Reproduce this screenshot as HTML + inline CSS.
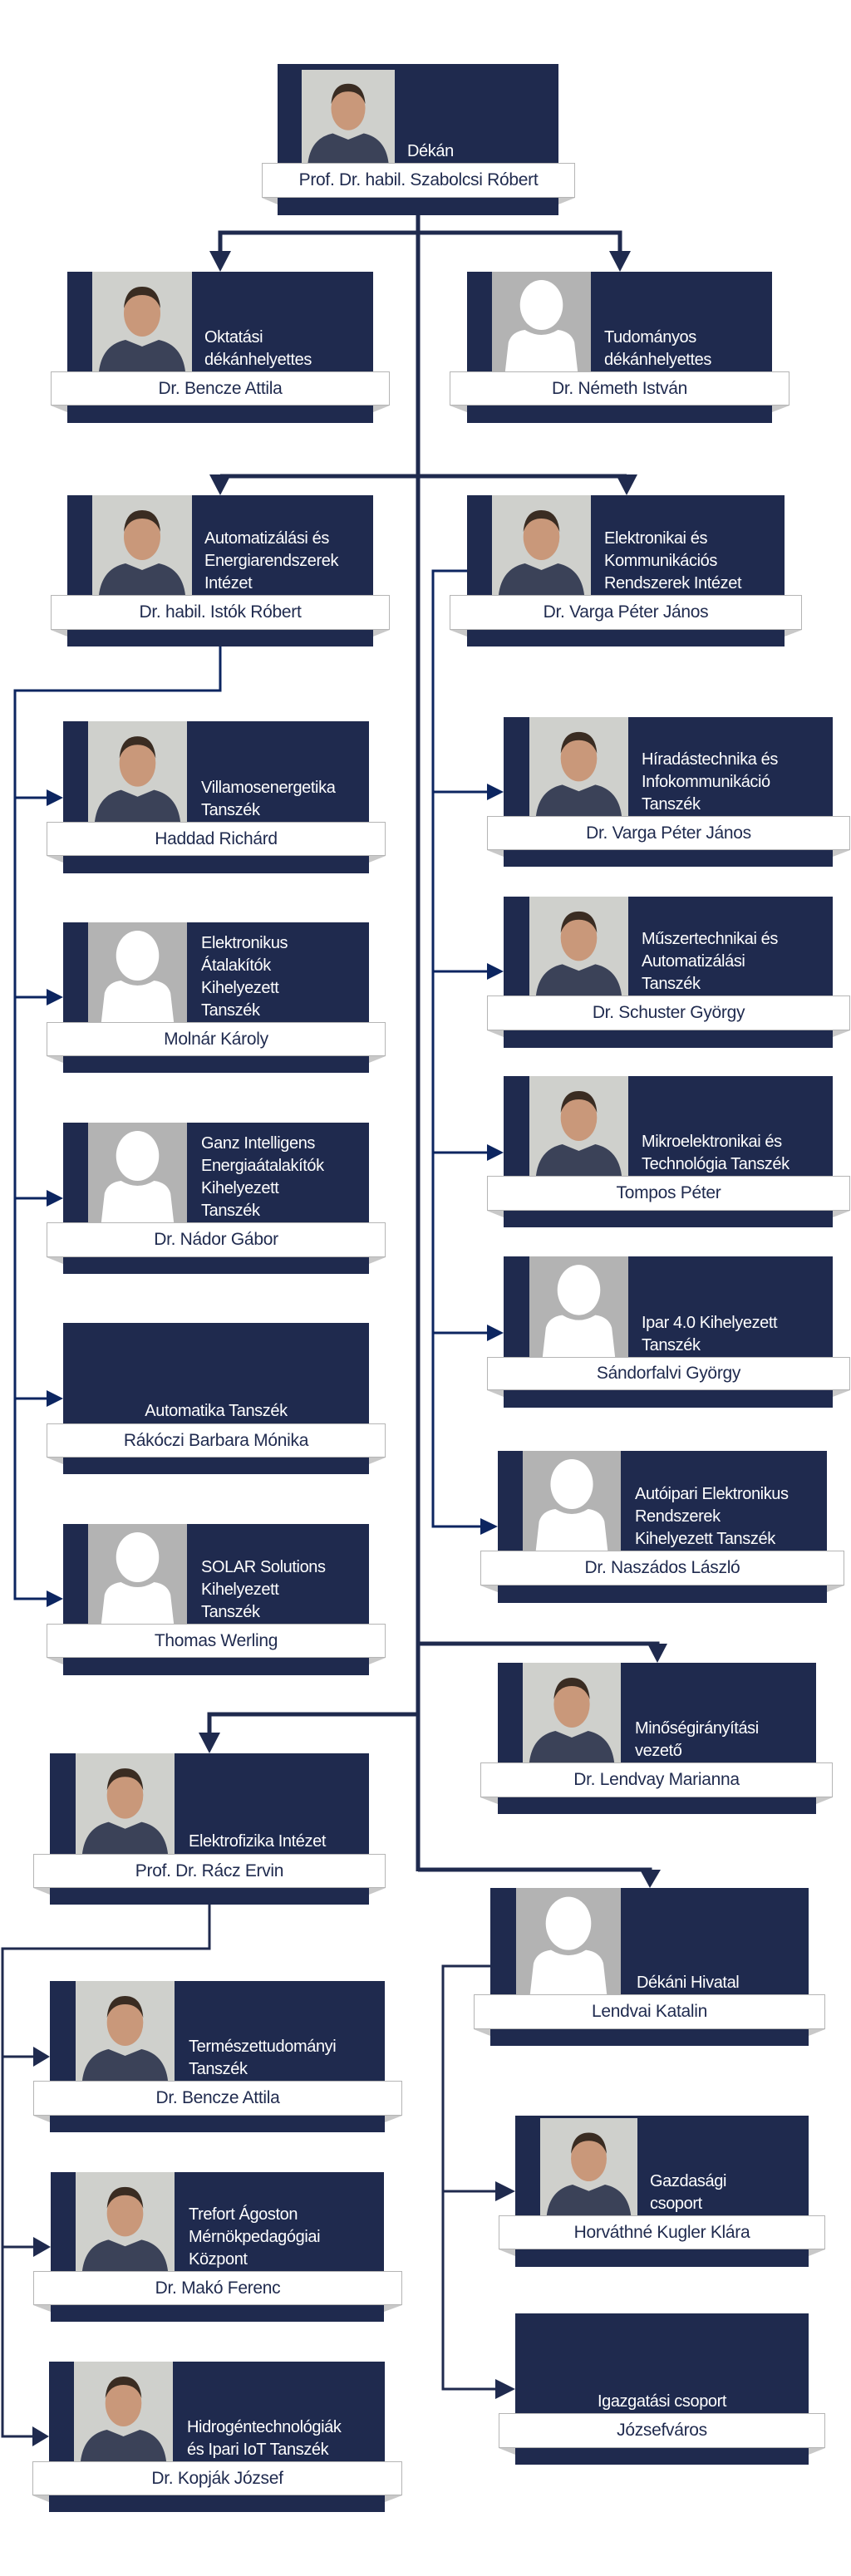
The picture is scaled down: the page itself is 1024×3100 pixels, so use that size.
<!DOCTYPE html>
<html><head><meta charset="utf-8"><style>
body{margin:0;background:#fff;width:1024px;height:3100px;position:relative;overflow:hidden;font-family:"Liberation Sans",sans-serif}
.r{position:absolute;background:#1f2a4e}
.p{position:absolute;overflow:hidden}
.p svg{display:block;width:100%;height:100%}
.t{position:absolute;color:#fff;font-size:20px;line-height:27px;white-space:nowrap;letter-spacing:-0.4px}
.b{position:absolute;background:#fff;border:1px solid #b5b5b5;box-sizing:border-box;color:#1f2a4e;font-size:21px;text-align:center;white-space:nowrap;display:flex;align-items:center;justify-content:center;letter-spacing:-0.3px}
svg.c{position:absolute;left:0;top:0}
</style></head><body>
<svg width="0" height="0" style="position:absolute"><defs>
<symbol id="av" viewBox="0 0 120 120" preserveAspectRatio="none"><rect width="120" height="120" fill="#b3b3b3"/><ellipse cx="60" cy="40" rx="26" ry="30" fill="#fff"/><path d="M16 120 L20 85 Q24 72 40 70 Q60 82 80 70 Q96 72 100 85 L104 120Z" fill="#fff"/></symbol>
<symbol id="ph" viewBox="0 0 120 120" preserveAspectRatio="none"><rect width="120" height="120" fill="#cfd0cc"/><path d="M8 120 Q12 88 40 82 L60 90 L80 82 Q108 88 112 120Z" fill="#3b4258"/><ellipse cx="60" cy="50" rx="22" ry="28" fill="#c9987a"/><path d="M38 44 Q40 18 60 18 Q80 18 82 44 Q76 28 60 28 Q44 28 38 44Z" fill="#3a2c22"/></symbol>
</defs></svg>

<div class="r" style="left:334px;top:77px;width:338px;height:182px"></div>
<div class="p" style="left:363px;top:84px;width:112px;height:112px"><svg><use href="#ph"/></svg></div>
<div class="t" style="left:490px;top:169px">Dékán</div>
<div class="b" style="left:315px;top:196px;width:377px;height:42px">Prof. Dr. habil. Szabolcsi Róbert</div>

<div class="r" style="left:81px;top:327px;width:368px;height:182px"></div>
<div class="p" style="left:111px;top:327px;width:120px;height:120px"><svg><use href="#ph"/></svg></div>
<div class="t" style="left:246px;top:393px">Oktatási<br>dékánhelyettes</div>
<div class="b" style="left:61px;top:447px;width:408px;height:41px">Dr. Bencze Attila</div>

<div class="r" style="left:562px;top:327px;width:367px;height:182px"></div>
<div class="p" style="left:592px;top:327px;width:119px;height:120px"><svg><use href="#av"/></svg></div>
<div class="t" style="left:727px;top:393px">Tudományos<br>dékánhelyettes</div>
<div class="b" style="left:541px;top:447px;width:409px;height:41px">Dr. Németh István</div>

<div class="r" style="left:81px;top:596px;width:368px;height:182px"></div>
<div class="p" style="left:111px;top:596px;width:120px;height:120px"><svg><use href="#ph"/></svg></div>
<div class="t" style="left:246px;top:635px">Automatizálási és<br>Energiarendszerek<br>Intézet</div>
<div class="b" style="left:61px;top:716px;width:408px;height:42px">Dr. habil. Istók Róbert</div>

<div class="r" style="left:562px;top:596px;width:382px;height:182px"></div>
<div class="p" style="left:592px;top:596px;width:119px;height:120px"><svg><use href="#ph"/></svg></div>
<div class="t" style="left:727px;top:635px">Elektronikai és<br>Kommunikációs<br>Rendszerek Intézet</div>
<div class="b" style="left:541px;top:716px;width:424px;height:42px">Dr. Varga Péter János</div>

<div class="r" style="left:76px;top:868px;width:368px;height:183px"></div>
<div class="p" style="left:106px;top:868px;width:119px;height:121px"><svg><use href="#ph"/></svg></div>
<div class="t" style="left:242px;top:935px">Villamosenergetika<br>Tanszék</div>
<div class="b" style="left:56px;top:989px;width:408px;height:41px">Haddad Richárd</div>

<div class="r" style="left:76px;top:1110px;width:368px;height:181px"></div>
<div class="p" style="left:106px;top:1110px;width:119px;height:120px"><svg><use href="#av"/></svg></div>
<div class="t" style="left:242px;top:1122px">Elektronikus<br>Átalakítók<br>Kihelyezett<br>Tanszék</div>
<div class="b" style="left:56px;top:1230px;width:408px;height:41px">Molnár Károly</div>

<div class="r" style="left:76px;top:1351px;width:368px;height:182px"></div>
<div class="p" style="left:106px;top:1351px;width:119px;height:120px"><svg><use href="#av"/></svg></div>
<div class="t" style="left:242px;top:1363px">Ganz Intelligens<br>Energiaátalakítók<br>Kihelyezett<br>Tanszék</div>
<div class="b" style="left:56px;top:1471px;width:408px;height:42px">Dr. Nádor Gábor</div>

<div class="r" style="left:76px;top:1592px;width:368px;height:182px"></div>
<div class="t" style="left:76px;width:368px;text-align:center;top:1685px">Automatika Tanszék</div>
<div class="b" style="left:56px;top:1713px;width:408px;height:41px">Rákóczi Barbara Mónika</div>

<div class="r" style="left:76px;top:1834px;width:368px;height:182px"></div>
<div class="p" style="left:106px;top:1834px;width:119px;height:120px"><svg><use href="#av"/></svg></div>
<div class="t" style="left:242px;top:1873px">SOLAR Solutions<br>Kihelyezett<br>Tanszék</div>
<div class="b" style="left:56px;top:1954px;width:408px;height:41px">Thomas Werling</div>

<div class="r" style="left:606px;top:863px;width:396px;height:180px"></div>
<div class="p" style="left:637px;top:863px;width:119px;height:119px"><svg><use href="#ph"/></svg></div>
<div class="t" style="left:772px;top:901px">Híradástechnika és<br>Infokommunikáció<br>Tanszék</div>
<div class="b" style="left:586px;top:982px;width:437px;height:41px">Dr. Varga Péter János</div>

<div class="r" style="left:606px;top:1079px;width:396px;height:182px"></div>
<div class="p" style="left:637px;top:1079px;width:119px;height:119px"><svg><use href="#ph"/></svg></div>
<div class="t" style="left:772px;top:1117px">Műszertechnikai és<br>Automatizálási<br>Tanszék</div>
<div class="b" style="left:586px;top:1198px;width:437px;height:42px">Dr. Schuster György</div>

<div class="r" style="left:606px;top:1295px;width:396px;height:182px"></div>
<div class="p" style="left:637px;top:1295px;width:119px;height:120px"><svg><use href="#ph"/></svg></div>
<div class="t" style="left:772px;top:1361px">Mikroelektronikai és<br>Technológia Tanszék</div>
<div class="b" style="left:586px;top:1415px;width:437px;height:42px">Tompos Péter</div>

<div class="r" style="left:606px;top:1512px;width:396px;height:182px"></div>
<div class="p" style="left:637px;top:1512px;width:119px;height:121px"><svg><use href="#av"/></svg></div>
<div class="t" style="left:772px;top:1579px">Ipar 4.0 Kihelyezett<br>Tanszék</div>
<div class="b" style="left:586px;top:1633px;width:437px;height:40px">Sándorfalvi György</div>

<div class="r" style="left:599px;top:1746px;width:396px;height:183px"></div>
<div class="p" style="left:629px;top:1746px;width:118px;height:120px"><svg><use href="#av"/></svg></div>
<div class="t" style="left:764px;top:1785px">Autóipari Elektronikus<br>Rendszerek<br>Kihelyezett Tanszék</div>
<div class="b" style="left:578px;top:1866px;width:438px;height:42px">Dr. Naszádos László</div>

<div class="r" style="left:599px;top:2001px;width:383px;height:182px"></div>
<div class="p" style="left:629px;top:2001px;width:118px;height:120px"><svg><use href="#ph"/></svg></div>
<div class="t" style="left:764px;top:2067px">Minőségirányítási<br>vezető</div>
<div class="b" style="left:578px;top:2121px;width:424px;height:42px">Dr. Lendvay Marianna</div>

<div class="r" style="left:60px;top:2110px;width:384px;height:182px"></div>
<div class="p" style="left:91px;top:2110px;width:119px;height:121px"><svg><use href="#ph"/></svg></div>
<div class="t" style="left:227px;top:2203px">Elektrofizika Intézet</div>
<div class="b" style="left:40px;top:2231px;width:424px;height:41px">Prof. Dr. Rácz Ervin</div>

<div class="r" style="left:590px;top:2272px;width:383px;height:190px"></div>
<div class="p" style="left:621px;top:2272px;width:126px;height:128px"><svg><use href="#av"/></svg></div>
<div class="t" style="left:766px;top:2373px">Dékáni Hivatal</div>
<div class="b" style="left:570px;top:2400px;width:423px;height:42px">Lendvai Katalin</div>

<div class="r" style="left:60px;top:2384px;width:403px;height:182px"></div>
<div class="p" style="left:91px;top:2384px;width:119px;height:120px"><svg><use href="#ph"/></svg></div>
<div class="t" style="left:227px;top:2450px">Természettudományi<br>Tanszék</div>
<div class="b" style="left:40px;top:2504px;width:444px;height:42px">Dr. Bencze Attila</div>

<div class="r" style="left:61px;top:2614px;width:401px;height:180px"></div>
<div class="p" style="left:91px;top:2614px;width:119px;height:119px"><svg><use href="#ph"/></svg></div>
<div class="t" style="left:227px;top:2652px">Trefort Ágoston<br>Mérnökpedagógiai<br>Központ</div>
<div class="b" style="left:40px;top:2733px;width:444px;height:41px">Dr. Makó Ferenc</div>

<div class="r" style="left:59px;top:2842px;width:404px;height:181px"></div>
<div class="p" style="left:89px;top:2842px;width:119px;height:120px"><svg><use href="#ph"/></svg></div>
<div class="t" style="left:225px;top:2908px">Hidrogéntechnológiák<br>és Ipari IoT Tanszék</div>
<div class="b" style="left:39px;top:2962px;width:445px;height:41px">Dr. Kopják József</div>

<div class="r" style="left:620px;top:2546px;width:353px;height:182px"></div>
<div class="p" style="left:650px;top:2549px;width:117px;height:117px"><svg><use href="#ph"/></svg></div>
<div class="t" style="left:782px;top:2612px">Gazdasági<br>csoport</div>
<div class="b" style="left:600px;top:2666px;width:393px;height:41px">Horváthné Kugler Klára</div>

<div class="r" style="left:620px;top:2784px;width:353px;height:182px"></div>
<div class="t" style="left:620px;width:353px;text-align:center;top:2877px">Igazgatási csoport</div>
<div class="b" style="left:600px;top:2904px;width:393px;height:42px">Józsefváros</div>

<svg class="c" width="1024" height="3100">
<g fill="#c8c8c8">
<polygon points="315,238 334,238 334,246"/><polygon points="692,238 672,238 672,246"/>
<polygon points="61,488 81,488 81,496"/><polygon points="469,488 449,488 449,496"/>
<polygon points="541,488 562,488 562,496"/><polygon points="950,488 929,488 929,496"/>
<polygon points="61,758 81,758 81,766"/><polygon points="469,758 449,758 449,766"/>
<polygon points="541,758 562,758 562,766"/><polygon points="965,758 944,758 944,766"/>
<polygon points="56,1030 76,1030 76,1038"/><polygon points="464,1030 444,1030 444,1038"/>
<polygon points="56,1271 76,1271 76,1279"/><polygon points="464,1271 444,1271 444,1279"/>
<polygon points="56,1513 76,1513 76,1521"/><polygon points="464,1513 444,1513 444,1521"/>
<polygon points="56,1754 76,1754 76,1762"/><polygon points="464,1754 444,1754 444,1762"/>
<polygon points="56,1995 76,1995 76,2003"/><polygon points="464,1995 444,1995 444,2003"/>
<polygon points="586,1023 606,1023 606,1031"/><polygon points="1023,1023 1002,1023 1002,1031"/>
<polygon points="586,1240 606,1240 606,1248"/><polygon points="1023,1240 1002,1240 1002,1248"/>
<polygon points="586,1457 606,1457 606,1465"/><polygon points="1023,1457 1002,1457 1002,1465"/>
<polygon points="586,1673 606,1673 606,1681"/><polygon points="1023,1673 1002,1673 1002,1681"/>
<polygon points="578,1908 599,1908 599,1916"/><polygon points="1016,1908 995,1908 995,1916"/>
<polygon points="578,2163 599,2163 599,2171"/><polygon points="1002,2163 982,2163 982,2171"/>
<polygon points="40,2272 60,2272 60,2280"/><polygon points="464,2272 444,2272 444,2280"/>
<polygon points="570,2442 590,2442 590,2450"/><polygon points="993,2442 973,2442 973,2450"/>
<polygon points="40,2546 60,2546 60,2554"/><polygon points="484,2546 463,2546 463,2554"/>
<polygon points="40,2774 61,2774 61,2782"/><polygon points="484,2774 462,2774 462,2782"/>
<polygon points="39,3003 59,3003 59,3011"/><polygon points="484,3003 463,3003 463,3011"/>
<polygon points="600,2707 620,2707 620,2715"/><polygon points="993,2707 973,2707 973,2715"/>
<polygon points="600,2946 620,2946 620,2954"/><polygon points="993,2946 973,2946 973,2954"/>
</g>
<g stroke="#1f2a4e" stroke-width="5" fill="none">
<line x1="503" y1="259" x2="503" y2="2252"/>
<polyline points="265,304 265,280 746,280 746,304"/>
<polyline points="265,573 754,573"/>
<polyline points="503,1978 791,1978 791,1982"/>
<polyline points="503,2063 252,2063 252,2088"/>
<polyline points="503,2250 782,2250 782,2254"/>
</g>
<g fill="#1f2a4e">
<polygon points="252,302 278,302 265,327"/><polygon points="733,302 759,302 746,327"/>
<polygon points="252,571 278,571 265,596"/><polygon points="741,571 767,571 754,596"/>
<polygon points="779,1978 803,1978 791,2001"/>
<polygon points="239,2085 265,2085 252,2110"/>
<polygon points="770,2250 795,2250 782,2272"/>
</g>
<g stroke="#0c2560" stroke-width="3" fill="none">
<polyline points="265,778 265,831 18,831 18,1924 60,1924"/>
<line x1="18" y1="960" x2="60" y2="960"/><line x1="18" y1="1200" x2="60" y2="1200"/><line x1="18" y1="1442" x2="60" y2="1442"/><line x1="18" y1="1683" x2="60" y2="1683"/>
<polyline points="562,687 521,687 521,1837 582,1837"/>
<line x1="521" y1="953" x2="590" y2="953"/><line x1="521" y1="1169" x2="590" y2="1169"/><line x1="521" y1="1387" x2="590" y2="1387"/><line x1="521" y1="1604" x2="590" y2="1604"/>
</g>
<g stroke="#1f2a4e" stroke-width="3" fill="none">
<polyline points="252,2292 252,2345 3,2345 3,2932 44,2932"/>
<line x1="3" y1="2475" x2="44" y2="2475"/><line x1="3" y1="2704" x2="44" y2="2704"/>
<polyline points="590,2366 533,2366 533,2875 600,2875"/>
<line x1="533" y1="2637" x2="600" y2="2637"/>
</g>
<g fill="#0c2560">
<polygon points="56,950 76,960 56,970"/><polygon points="56,1190 76,1200 56,1210"/><polygon points="56,1432 76,1442 56,1452"/><polygon points="56,1673 76,1683 56,1693"/><polygon points="56,1914 76,1924 56,1934"/>
<polygon points="586,943 606,953 586,963"/><polygon points="586,1159 606,1169 586,1179"/><polygon points="586,1377 606,1387 586,1397"/><polygon points="586,1594 606,1604 586,1614"/><polygon points="578,1827 599,1837 578,1847"/>
</g>
<g fill="#1f2a4e">
<polygon points="40,2463 60,2475 40,2487"/><polygon points="40,2692 61,2704 40,2716"/><polygon points="39,2920 59,2932 39,2944"/>
<polygon points="596,2625 620,2637 596,2649"/><polygon points="596,2863 620,2875 596,2887"/>
</g>
</svg>
</body></html>
